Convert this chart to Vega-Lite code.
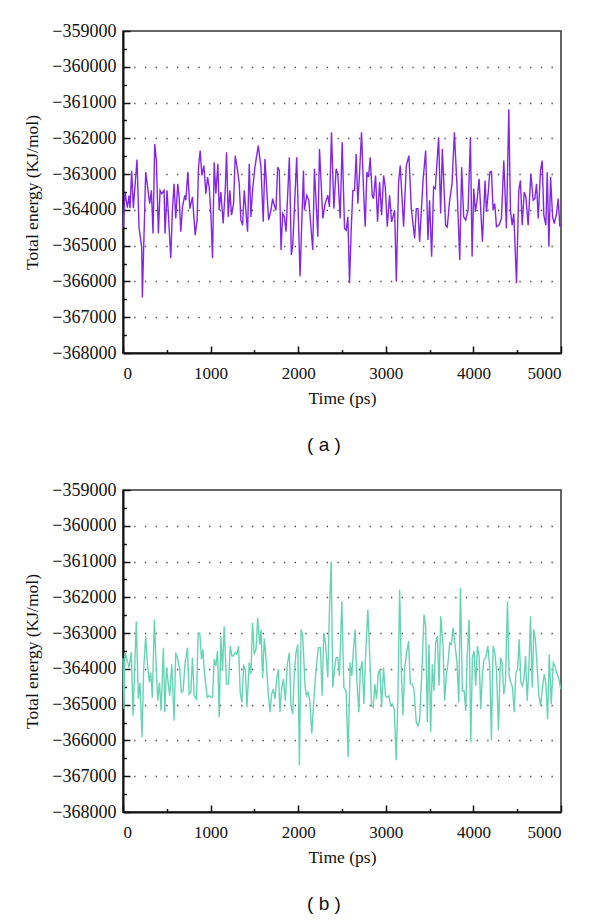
{
  "$schema": "https://vega.github.io/schema/vega-lite/v6.json",
  "background": "white",
  "padding": {"left": 23, "top": 21, "right": 10, "bottom": 5},
  "spacing": 24,
  "config": {
    "font": "Liberation Serif",
    "view": {"stroke": "#333333", "strokeWidth": 1.5},
    "axis": {
      "labelFont": "Liberation Serif",
      "labelFontSize": 17,
      "labelColor": "#111111",
      "titleFont": "Liberation Serif",
      "titleFontSize": 17.5,
      "titleFontWeight": "normal",
      "titleColor": "#111111",
      "domainColor": "#111111",
      "domainWidth": 2,
      "tickColor": "#111111",
      "tickWidth": 1.5
    }
  },
  "datasets": {
    "a": [
      {"t":0,"e":-364500},{"t":23,"e":-363520},{"t":50,"e":-363940},{"t":69,"e":-363600},{"t":80,"e":-363950},{"t":99,"e":-362910},{"t":118,"e":-363950},{"t":160,"e":-362590},{"t":183,"e":-364500},{"t":214,"e":-365060},{"t":221,"e":-366450},{"t":259,"e":-362945},{"t":305,"e":-363825},{"t":324,"e":-363455},{"t":343,"e":-364658},{"t":362,"e":-362158},{"t":381,"e":-362621},{"t":404,"e":-364658},{"t":423,"e":-363455},{"t":442,"e":-363547},{"t":469,"e":-363455},{"t":480,"e":-364658},{"t":503,"e":-363455},{"t":526,"e":-364473},{"t":545,"e":-365353},{"t":564,"e":-364010},{"t":583,"e":-363269},{"t":602,"e":-364241},{"t":625,"e":-363269},{"t":641,"e":-363639},{"t":660,"e":-364612},{"t":679,"e":-363917},{"t":705,"e":-363593},{"t":717,"e":-363732},{"t":740,"e":-362945},{"t":763,"e":-363964},{"t":793,"e":-363639},{"t":824,"e":-364704},{"t":846,"e":-364288},{"t":862,"e":-362806},{"t":881,"e":-362343},{"t":900,"e":-363038},{"t":923,"e":-362760},{"t":946,"e":-363547},{"t":965,"e":-363084},{"t":984,"e":-363362},{"t":1003,"e":-364102},{"t":1022,"e":-365353},{"t":1041,"e":-362667},{"t":1060,"e":-363547},{"t":1083,"e":-362713},{"t":1098,"e":-364010},{"t":1117,"e":-363500},{"t":1144,"e":-364380},{"t":1167,"e":-363455},{"t":1182,"e":-362389},{"t":1201,"e":-364195},{"t":1220,"e":-363455},{"t":1239,"e":-364149},{"t":1262,"e":-363825},{"t":1281,"e":-362482},{"t":1308,"e":-362899},{"t":1327,"e":-363269},{"t":1346,"e":-364288},{"t":1365,"e":-364427},{"t":1384,"e":-363455},{"t":1422,"e":-364612},{"t":1441,"e":-362713},{"t":1460,"e":-364195},{"t":1479,"e":-363455},{"t":1506,"e":-362806},{"t":1544,"e":-362204},{"t":1575,"e":-362806},{"t":1601,"e":-364334},{"t":1620,"e":-362575},{"t":1662,"e":-364288},{"t":1689,"e":-364010},{"t":1708,"e":-363686},{"t":1727,"e":-363871},{"t":1746,"e":-364010},{"t":1765,"e":-362806},{"t":1784,"e":-362899},{"t":1804,"e":-365121},{"t":1823,"e":-364102},{"t":1842,"e":-364195},{"t":1861,"e":-364612},{"t":1899,"e":-362528},{"t":1922,"e":-365260},{"t":1938,"e":-364982},{"t":1983,"e":-362528},{"t":2021,"e":-365862},{"t":2060,"e":-362899},{"t":2071,"e":-364010},{"t":2098,"e":-363593},{"t":2121,"e":-363732},{"t":2166,"e":-365121},{"t":2185,"e":-362852},{"t":2224,"e":-364751},{"t":2243,"e":-362297},{"t":2281,"e":-364241},{"t":2307,"e":-363825},{"t":2338,"e":-363593},{"t":2357,"e":-363917},{"t":2380,"e":-361834},{"t":2407,"e":-363964},{"t":2433,"e":-362852},{"t":2452,"e":-362991},{"t":2479,"e":-364241},{"t":2502,"e":-362112},{"t":2529,"e":-364519},{"t":2548,"e":-364566},{"t":2567,"e":-364195},{"t":2586,"e":-366047},{"t":2605,"e":-364566},{"t":2624,"e":-363455},{"t":2643,"e":-363455},{"t":2662,"e":-362436},{"t":2681,"e":-363825},{"t":2700,"e":-362991},{"t":2723,"e":-361834},{"t":2746,"e":-363455},{"t":2765,"e":-364473},{"t":2784,"e":-362945},{"t":2803,"e":-363084},{"t":2822,"e":-362528},{"t":2845,"e":-363593},{"t":2860,"e":-363686},{"t":2883,"e":-363038},{"t":2906,"e":-364334},{"t":2929,"e":-363223},{"t":2952,"e":-364149},{"t":2975,"e":-363038},{"t":2994,"e":-363362},{"t":3017,"e":-364473},{"t":3043,"e":-363593},{"t":3066,"e":-364334},{"t":3101,"e":-364010},{"t":3120,"e":-366001},{"t":3146,"e":-363223},{"t":3165,"e":-362760},{"t":3203,"e":-364473},{"t":3234,"e":-362760},{"t":3264,"e":-362482},{"t":3291,"e":-363964},{"t":3329,"e":-364797},{"t":3348,"e":-363964},{"t":3367,"e":-363964},{"t":3386,"e":-364889},{"t":3425,"e":-363177},{"t":3455,"e":-362343},{"t":3481,"e":-364843},{"t":3500,"e":-363732},{"t":3523,"e":-365306},{"t":3546,"e":-363361},{"t":3565,"e":-363408},{"t":3603,"e":-361972},{"t":3626,"e":-364102},{"t":3645,"e":-362296},{"t":3683,"e":-364426},{"t":3702,"e":-364473},{"t":3729,"e":-363732},{"t":3756,"e":-363269},{"t":3783,"e":-361833},{"t":3813,"e":-363361},{"t":3844,"e":-365399},{"t":3866,"e":-362806},{"t":3889,"e":-364195},{"t":3912,"e":-364287},{"t":3939,"e":-364010},{"t":3966,"e":-361972},{"t":3985,"e":-365306},{"t":4004,"e":-363408},{"t":4023,"e":-364056},{"t":4042,"e":-363732},{"t":4065,"e":-363130},{"t":4103,"e":-364889},{"t":4133,"e":-363176},{"t":4149,"e":-364056},{"t":4168,"e":-363547},{"t":4187,"e":-362945},{"t":4206,"e":-362926},{"t":4225,"e":-364010},{"t":4244,"e":-363824},{"t":4263,"e":-364473},{"t":4293,"e":-364426},{"t":4320,"e":-364241},{"t":4347,"e":-362621},{"t":4377,"e":-364519},{"t":4404,"e":-361185},{"t":4423,"e":-364010},{"t":4442,"e":-364426},{"t":4461,"e":-364102},{"t":4492,"e":-366047},{"t":4518,"e":-363454},{"t":4537,"e":-363176},{"t":4557,"e":-364426},{"t":4580,"e":-363500},{"t":4599,"e":-363639},{"t":4625,"e":-364426},{"t":4656,"e":-362991},{"t":4682,"e":-363732},{"t":4701,"e":-363685},{"t":4721,"e":-363269},{"t":4740,"e":-364241},{"t":4766,"e":-362898},{"t":4785,"e":-362621},{"t":4804,"e":-364148},{"t":4827,"e":-364426},{"t":4843,"e":-362945},{"t":4862,"e":-365028},{"t":4881,"e":-363083},{"t":4904,"e":-364195},{"t":4923,"e":-364380},{"t":4949,"e":-364102},{"t":4968,"e":-363685},{"t":4987,"e":-364473},{"t":5000,"e":-364400}
    ],
    "b": [
      {"t":0,"e":-363700},{"t":11,"e":-365121},{"t":23,"e":-363546},{"t":50,"e":-363778},{"t":69,"e":-363963},{"t":95,"e":-363528},{"t":114,"e":-365306},{"t":152,"e":-362667},{"t":175,"e":-364843},{"t":194,"e":-364380},{"t":217,"e":-365908},{"t":236,"e":-364010},{"t":259,"e":-363083},{"t":278,"e":-363824},{"t":301,"e":-364380},{"t":316,"e":-364102},{"t":335,"e":-364797},{"t":358,"e":-362620},{"t":377,"e":-363824},{"t":396,"e":-364889},{"t":416,"e":-364380},{"t":435,"e":-365167},{"t":461,"e":-363407},{"t":477,"e":-365213},{"t":496,"e":-363963},{"t":515,"e":-364380},{"t":534,"e":-364750},{"t":557,"e":-363870},{"t":583,"e":-365445},{"t":602,"e":-363546},{"t":625,"e":-363731},{"t":648,"e":-364010},{"t":667,"e":-364658},{"t":686,"e":-364611},{"t":709,"e":-363824},{"t":736,"e":-363407},{"t":755,"e":-364704},{"t":774,"e":-364658},{"t":793,"e":-363685},{"t":812,"e":-364750},{"t":839,"e":-364843},{"t":858,"e":-362991},{"t":877,"e":-363019},{"t":896,"e":-363731},{"t":911,"e":-363454},{"t":927,"e":-364010},{"t":946,"e":-364473},{"t":961,"e":-364797},{"t":984,"e":-364750},{"t":1003,"e":-364797},{"t":1022,"e":-364797},{"t":1041,"e":-363731},{"t":1060,"e":-363916},{"t":1079,"e":-363500},{"t":1098,"e":-365352},{"t":1117,"e":-363083},{"t":1136,"e":-364056},{"t":1155,"e":-362806},{"t":1182,"e":-364426},{"t":1205,"e":-364426},{"t":1224,"e":-363361},{"t":1243,"e":-363639},{"t":1258,"e":-363639},{"t":1281,"e":-363546},{"t":1300,"e":-363593},{"t":1319,"e":-363361},{"t":1338,"e":-364658},{"t":1357,"e":-364936},{"t":1377,"e":-363916},{"t":1396,"e":-364010},{"t":1415,"e":-365074},{"t":1441,"e":-363824},{"t":1460,"e":-364148},{"t":1479,"e":-362713},{"t":1498,"e":-363593},{"t":1518,"e":-363454},{"t":1537,"e":-362574},{"t":1560,"e":-363315},{"t":1575,"e":-362898},{"t":1594,"e":-364260},{"t":1613,"e":-363150},{"t":1632,"e":-363685},{"t":1659,"e":-364704},{"t":1678,"e":-365213},{"t":1697,"e":-364704},{"t":1716,"e":-364565},{"t":1735,"e":-364843},{"t":1754,"e":-364287},{"t":1773,"e":-364010},{"t":1792,"e":-365213},{"t":1811,"e":-364565},{"t":1831,"e":-364287},{"t":1853,"e":-364889},{"t":1876,"e":-363870},{"t":1899,"e":-363546},{"t":1918,"e":-365028},{"t":1937,"e":-365259},{"t":1956,"e":-364102},{"t":1975,"e":-363546},{"t":1995,"e":-363315},{"t":2014,"e":-366694},{"t":2033,"e":-362898},{"t":2052,"e":-363083},{"t":2078,"e":-364473},{"t":2094,"e":-364750},{"t":2113,"e":-364658},{"t":2132,"e":-364889},{"t":2155,"e":-365815},{"t":2178,"e":-364889},{"t":2204,"e":-364010},{"t":2231,"e":-363407},{"t":2254,"e":-363407},{"t":2273,"e":-364750},{"t":2292,"e":-362991},{"t":2311,"e":-363269},{"t":2338,"e":-364241},{"t":2357,"e":-362343},{"t":2376,"e":-361000},{"t":2395,"e":-364519},{"t":2414,"e":-364010},{"t":2433,"e":-363685},{"t":2452,"e":-363685},{"t":2471,"e":-364195},{"t":2498,"e":-362111},{"t":2521,"e":-364519},{"t":2547,"e":-364611},{"t":2570,"e":-366463},{"t":2593,"e":-363824},{"t":2612,"e":-364195},{"t":2631,"e":-363454},{"t":2650,"e":-362898},{"t":2669,"e":-364287},{"t":2692,"e":-365213},{"t":2708,"e":-364102},{"t":2730,"e":-363778},{"t":2750,"e":-364981},{"t":2769,"e":-363639},{"t":2795,"e":-362343},{"t":2814,"e":-363454},{"t":2837,"e":-365028},{"t":2856,"e":-365074},{"t":2875,"e":-364426},{"t":2894,"e":-364843},{"t":2913,"e":-364148},{"t":2932,"e":-364010},{"t":2952,"e":-365074},{"t":2974,"e":-363963},{"t":2997,"e":-364750},{"t":3016,"e":-364797},{"t":3035,"e":-364750},{"t":3055,"e":-365028},{"t":3074,"e":-364981},{"t":3096,"e":-365121},{"t":3119,"e":-366556},{"t":3138,"e":-364843},{"t":3158,"e":-361787},{"t":3177,"e":-364010},{"t":3196,"e":-365306},{"t":3215,"e":-364010},{"t":3234,"e":-363593},{"t":3260,"e":-363222},{"t":3280,"e":-364426},{"t":3302,"e":-364426},{"t":3321,"e":-364565},{"t":3348,"e":-365491},{"t":3367,"e":-365584},{"t":3386,"e":-365445},{"t":3413,"e":-364010},{"t":3436,"e":-362481},{"t":3455,"e":-362806},{"t":3474,"e":-365491},{"t":3493,"e":-363315},{"t":3512,"e":-365769},{"t":3531,"e":-363870},{"t":3550,"e":-364611},{"t":3569,"e":-363269},{"t":3588,"e":-363083},{"t":3608,"e":-364473},{"t":3627,"e":-362528},{"t":3653,"e":-363361},{"t":3672,"e":-364889},{"t":3691,"e":-364195},{"t":3710,"e":-363824},{"t":3730,"e":-363269},{"t":3749,"e":-363315},{"t":3768,"e":-362852},{"t":3787,"e":-363269},{"t":3813,"e":-363824},{"t":3833,"e":-364936},{"t":3852,"e":-361741},{"t":3874,"e":-364611},{"t":3894,"e":-364611},{"t":3913,"e":-365167},{"t":3928,"e":-363685},{"t":3951,"e":-362620},{"t":3970,"e":-366047},{"t":3989,"e":-363685},{"t":4008,"e":-363500},{"t":4027,"e":-364473},{"t":4046,"e":-363361},{"t":4065,"e":-363639},{"t":4084,"e":-365121},{"t":4103,"e":-364148},{"t":4122,"e":-363731},{"t":4141,"e":-363685},{"t":4164,"e":-363361},{"t":4187,"e":-363963},{"t":4206,"e":-366000},{"t":4225,"e":-363361},{"t":4244,"e":-363546},{"t":4263,"e":-364010},{"t":4286,"e":-365723},{"t":4309,"e":-363685},{"t":4328,"e":-363824},{"t":4347,"e":-364704},{"t":4366,"e":-364380},{"t":4389,"e":-362111},{"t":4408,"e":-364195},{"t":4427,"e":-364380},{"t":4446,"e":-364519},{"t":4466,"e":-365213},{"t":4485,"e":-364102},{"t":4504,"e":-364010},{"t":4523,"e":-363176},{"t":4542,"e":-364380},{"t":4561,"e":-364473},{"t":4576,"e":-364287},{"t":4595,"e":-363639},{"t":4614,"e":-364889},{"t":4633,"e":-364010},{"t":4652,"e":-362528},{"t":4671,"e":-364519},{"t":4690,"e":-362898},{"t":4709,"e":-363222},{"t":4729,"e":-364010},{"t":4748,"e":-364750},{"t":4767,"e":-365028},{"t":4790,"e":-364473},{"t":4809,"e":-364148},{"t":4828,"e":-364426},{"t":4847,"e":-365399},{"t":4866,"e":-363593},{"t":4889,"e":-364981},{"t":4912,"e":-363824},{"t":4931,"e":-363916},{"t":4950,"e":-364102},{"t":4976,"e":-364287},{"t":4996,"e":-364565}
    ]
  },
  "vconcat": [
    {
      "data": {"name": "a"},
      "width": 438,
      "height": 322,
      "title": {"text": "( a )", "orient": "bottom", "anchor": "middle", "frame": "group", "dx": -18, "offset": 29, "font": "Liberation Sans", "fontSize": 19, "fontWeight": "normal", "color": "#111111"},
      "mark": {"type": "line", "color": "#8426e6", "strokeWidth": 1.4},
      "encoding": {
        "x": {
          "field": "t", "type": "quantitative",
          "scale": {"domain": [0, 5000], "nice": false},
          "axis": {
            "title": "Time (ps)", "grid": false,
            "values": [0, 500, 1000, 1500, 2000, 2500, 3000, 3500, 4000, 4500, 5000],
            "labelExpr": "datum.value % 1000 === 0 ? datum.label : ''",
            "format": "d",
            "tickSize": {"condition": {"test": "datum.value % 1000 === 0", "value": -7}, "value": -3.5},
            "labelPadding": 19, "titlePadding": 8
          }
        },
        "y": {
          "field": "e", "type": "quantitative",
          "scale": {"domain": [-368000, -359000], "nice": false, "zero": false},
          "axis": {
            "title": "Total energy (KJ/mol)",
            "values": [-368000, -367500, -367000, -366500, -366000, -365500, -365000, -364500, -364000, -363500, -363000, -362500, -362000, -361500, -361000, -360500, -360000, -359500, -359000],
            "labelExpr": "datum.value % 1000 === 0 ? datum.label : ''",
            "format": "d",
            "labelFontSize": 18,
            "tickSize": {"condition": {"test": "datum.value % 1000 === 0", "value": -7}, "value": -3.5},
            "grid": true,
            "gridColor": "#444444",
            "gridWidth": 1.3,
            "gridDash": [1.3, 9.4],
            "gridOpacity": {"condition": {"test": "datum.value % 1000 === 0 && datum.value > -368000 && datum.value < -359000", "value": 1}, "value": 0},
            "labelPadding": 14, "titlePadding": 10
          }
        }
      }
    },
    {
      "data": {"name": "b"},
      "width": 438,
      "height": 322,
      "title": {"text": "( b )", "orient": "bottom", "anchor": "middle", "frame": "group", "dx": -18, "offset": 29, "font": "Liberation Sans", "fontSize": 19, "fontWeight": "normal", "color": "#111111"},
      "mark": {"type": "line", "color": "#66d4b4", "strokeWidth": 1.4},
      "encoding": {
        "x": {
          "field": "t", "type": "quantitative",
          "scale": {"domain": [0, 5000], "nice": false},
          "axis": {
            "title": "Time (ps)", "grid": false,
            "values": [0, 500, 1000, 1500, 2000, 2500, 3000, 3500, 4000, 4500, 5000],
            "labelExpr": "datum.value % 1000 === 0 ? datum.label : ''",
            "format": "d",
            "tickSize": {"condition": {"test": "datum.value % 1000 === 0", "value": -7}, "value": -3.5},
            "labelPadding": 19, "titlePadding": 8
          }
        },
        "y": {
          "field": "e", "type": "quantitative",
          "scale": {"domain": [-368000, -359000], "nice": false, "zero": false},
          "axis": {
            "title": "Total energy (KJ/mol)",
            "values": [-368000, -367500, -367000, -366500, -366000, -365500, -365000, -364500, -364000, -363500, -363000, -362500, -362000, -361500, -361000, -360500, -360000, -359500, -359000],
            "labelExpr": "datum.value % 1000 === 0 ? datum.label : ''",
            "format": "d",
            "labelFontSize": 18,
            "tickSize": {"condition": {"test": "datum.value % 1000 === 0", "value": -7}, "value": -3.5},
            "grid": true,
            "gridColor": "#444444",
            "gridWidth": 1.3,
            "gridDash": [1.3, 9.4],
            "gridOpacity": {"condition": {"test": "datum.value % 1000 === 0 && datum.value > -368000 && datum.value < -359000", "value": 1}, "value": 0},
            "labelPadding": 14, "titlePadding": 10
          }
        }
      }
    }
  ]
}
